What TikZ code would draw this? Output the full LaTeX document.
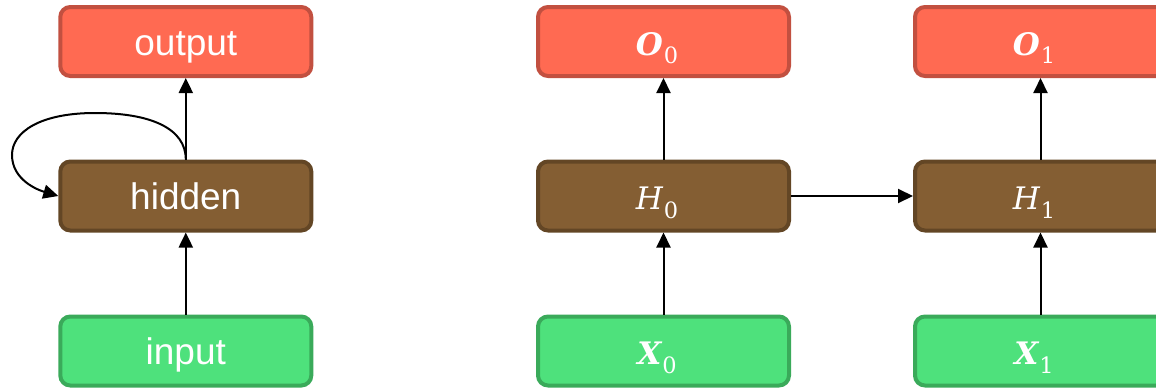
\documentclass[tikz,border=0pt]{standalone}
\usepackage{fontspec}
\setmainfont{Liberation Sans}
\newfontfamily\lmr{DejaVu Serif}
\usetikzlibrary{arrows.meta}
\definecolor{outfill}{HTML}{FF6A52}
\definecolor{outline}{HTML}{C25040}
\definecolor{hidfill}{HTML}{845E33}
\definecolor{hidline}{HTML}{634625}
\definecolor{infill}{HTML}{4EE17C}
\definecolor{inline}{HTML}{3AAA5A}
\newcommand\lab[2]{{\lmr #1}\hspace{1pt}\raisebox{-8.5pt}{\fontsize{22.5}{25}\selectfont\lmr #2}\hspace*{13pt}}
\begin{document}
\begin{tikzpicture}[x=1pt,y=-1pt,
  box/.style={draw,line width=4pt,rounded corners=10pt,minimum width=251pt,minimum height=69pt,inner sep=0pt,text=white,text height=27pt,text depth=0pt,font=\fontsize{37}{40}\selectfont},
  mbox/.style={box,font=\fontsize{31}{40}\selectfont},
  outbox/.style={fill=outfill,draw=outline},
  hidbox/.style={fill=hidfill,draw=hidline},
  inbox/.style={fill=infill,draw=inline},
  arr/.style={line width=2pt,-{Triangle[length=15pt,width=14pt]}}]
\useasboundingbox (0,0) rectangle (1156,388);
\clip (0,0) rectangle (1156,388);
% left column
\node[box,outbox] (o) at (185.8,41.5) {output};
\node[box,hidbox] (h) at (185.8,196) {hidden};
\node[box,inbox] (i) at (185.8,351) {input};
% middle column
\node[mbox,outbox] (o0) at (663.5,41.5) {\lab{\bfseries\itshape O}{0}};
\node[mbox,hidbox] (h0) at (663.5,196) {\lab{\itshape H}{0}};
\node[mbox,inbox] (x0) at (663.5,351) {\lab{\bfseries\itshape X}{0}};
% right column
\node[mbox,outbox] (o1) at (1040.5,41.5) {\lab{\bfseries\itshape O}{1}};
\node[mbox,hidbox] (h1) at (1040.5,196) {\lab{\itshape H}{1}};
\node[mbox,inbox] (x1) at (1040.5,351) {\lab{\bfseries\itshape X}{1}};
% connectors
\draw[arr] (i) -- (h);
\draw[arr] (h) -- (o);
\draw[arr] (h.north) .. controls (185.8,128) and (150,113) .. (95,113)
  .. controls (40,113) and (12,132) .. (12,155)
  .. controls (12,180) and (38,190) .. (h.west);
\draw[arr] (x0) -- (h0);
\draw[arr] (h0) -- (o0);
\draw[arr] (h0) -- (h1);
\draw[arr] (x1) -- (h1);
\draw[arr] (h1) -- (o1);
\end{tikzpicture}
\end{document}
